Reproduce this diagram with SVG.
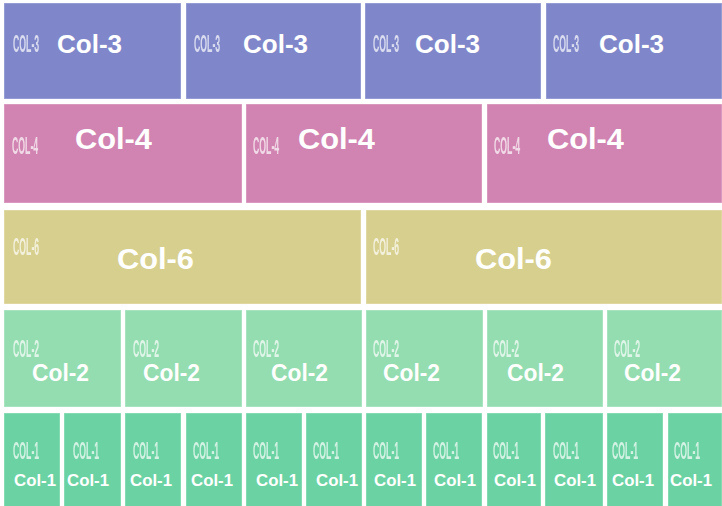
<svg xmlns="http://www.w3.org/2000/svg" width="722" height="506" viewBox="0 0 722 506">
<defs>
<filter id="soft" x="-20%" y="-20%" width="140%" height="140%"><feGaussianBlur stdDeviation="0.6"/></filter>
</defs>
<style>
rect{stroke:#ffffff;stroke-opacity:0.35;stroke-width:1}
.c3{fill:#7f87ca}.c4{fill:#d184b1}.c6{fill:#d7cf8d}.c2{fill:#94ddb1}.c1{fill:#6bd3a3}
.big{font-family:"Liberation Sans",Arial,sans-serif;font-weight:bold;fill:#ffffff}
.sm{font-family:"Liberation Sans",Arial,sans-serif;font-weight:bold;fill:#ffffff;fill-opacity:0.7;font-size:23px;filter:url(#soft)}
.r1{font-size:25px}.r2{font-size:29px}.r4{font-size:24.5px}.r5{font-size:16.5px}
</style>
<rect x="0" y="0" width="722" height="506" fill="#ffffff" style="stroke:none"/>
<g id="row1">
<g id="c3a"><rect class="c3" x="4" y="3" width="177" height="96"/><text class="sm" transform="translate(13,52) scale(0.38,1)">COL-3</text><text class="big r1" x="57" y="53" textLength="65" lengthAdjust="spacingAndGlyphs">Col-3</text></g>
<g id="c3b"><rect class="c3" x="186" y="3" width="175" height="96"/><text class="sm" transform="translate(194,52) scale(0.38,1)">COL-3</text><text class="big r1" x="243" y="53" textLength="65" lengthAdjust="spacingAndGlyphs">Col-3</text></g>
<g id="c3c"><rect class="c3" x="365" y="3" width="176" height="96"/><text class="sm" transform="translate(373,52) scale(0.38,1)">COL-3</text><text class="big r1" x="415" y="53" textLength="65" lengthAdjust="spacingAndGlyphs">Col-3</text></g>
<g id="c3d"><rect class="c3" x="546" y="3" width="176" height="96"/><text class="sm" transform="translate(553,52) scale(0.38,1)">COL-3</text><text class="big r1" x="599" y="53" textLength="65" lengthAdjust="spacingAndGlyphs">Col-3</text></g>
</g>
<g id="row2">
<g id="c4a"><rect class="c4" x="4" y="104" width="238" height="99"/><text class="sm" transform="translate(12,154) scale(0.38,1)">COL-4</text><text class="big r2" x="75" y="149" textLength="77" lengthAdjust="spacingAndGlyphs">Col-4</text></g>
<g id="c4b"><rect class="c4" x="246" y="104" width="236" height="99"/><text class="sm" transform="translate(253,154) scale(0.38,1)">COL-4</text><text class="big r2" x="298" y="149" textLength="77" lengthAdjust="spacingAndGlyphs">Col-4</text></g>
<g id="c4c"><rect class="c4" x="487" y="104" width="235" height="99"/><text class="sm" transform="translate(494,154) scale(0.38,1)">COL-4</text><text class="big r2" x="547" y="149" textLength="77" lengthAdjust="spacingAndGlyphs">Col-4</text></g>
</g>
<g id="row3">
<g id="c6a"><rect class="c6" x="4" y="210" width="357" height="94"/><text class="sm" transform="translate(13,255) scale(0.38,1)">COL-6</text><text class="big r2" x="117" y="269" textLength="77" lengthAdjust="spacingAndGlyphs">Col-6</text></g>
<g id="c6b"><rect class="c6" x="366" y="210" width="356" height="94"/><text class="sm" transform="translate(373,255) scale(0.38,1)">COL-6</text><text class="big r2" x="475" y="269" textLength="77" lengthAdjust="spacingAndGlyphs">Col-6</text></g>
</g>
<g id="row4">
<g id="c2a"><rect class="c2" x="4" y="310" width="117" height="97"/><text class="sm" transform="translate(13,357) scale(0.38,1)">COL-2</text><text class="big r4" x="32" y="381" textLength="57" lengthAdjust="spacingAndGlyphs">Col-2</text></g>
<g id="c2b"><rect class="c2" x="125" y="310" width="117" height="97"/><text class="sm" transform="translate(133,357) scale(0.38,1)">COL-2</text><text class="big r4" x="143" y="381" textLength="57" lengthAdjust="spacingAndGlyphs">Col-2</text></g>
<g id="c2c"><rect class="c2" x="246" y="310" width="116" height="97"/><text class="sm" transform="translate(253,357) scale(0.38,1)">COL-2</text><text class="big r4" x="271" y="381" textLength="57" lengthAdjust="spacingAndGlyphs">Col-2</text></g>
<g id="c2d"><rect class="c2" x="366" y="310" width="117" height="97"/><text class="sm" transform="translate(373,357) scale(0.38,1)">COL-2</text><text class="big r4" x="383" y="381" textLength="57" lengthAdjust="spacingAndGlyphs">Col-2</text></g>
<g id="c2e"><rect class="c2" x="487" y="310" width="116" height="97"/><text class="sm" transform="translate(493,357) scale(0.38,1)">COL-2</text><text class="big r4" x="507" y="381" textLength="57" lengthAdjust="spacingAndGlyphs">Col-2</text></g>
<g id="c2f"><rect class="c2" x="607" y="310" width="115" height="97"/><text class="sm" transform="translate(614,357) scale(0.38,1)">COL-2</text><text class="big r4" x="624" y="381" textLength="57" lengthAdjust="spacingAndGlyphs">Col-2</text></g>
</g>
<g id="row5">
<g id="c1a"><rect class="c1" x="4" y="413" width="56" height="94"/><text class="sm" transform="translate(13,459) scale(0.38,1)">COL-1</text><text class="big r5" x="14" y="486" textLength="42" lengthAdjust="spacingAndGlyphs">Col-1</text></g>
<g id="c1b"><rect class="c1" x="64" y="413" width="57" height="94"/><text class="sm" transform="translate(73,459) scale(0.38,1)">COL-1</text><text class="big r5" x="67" y="486" textLength="42" lengthAdjust="spacingAndGlyphs">Col-1</text></g>
<g id="c1c"><rect class="c1" x="125" y="413" width="56" height="94"/><text class="sm" transform="translate(133,459) scale(0.38,1)">COL-1</text><text class="big r5" x="130" y="486" textLength="42" lengthAdjust="spacingAndGlyphs">Col-1</text></g>
<g id="c1d"><rect class="c1" x="186" y="413" width="56" height="94"/><text class="sm" transform="translate(193,459) scale(0.38,1)">COL-1</text><text class="big r5" x="191" y="486" textLength="42" lengthAdjust="spacingAndGlyphs">Col-1</text></g>
<g id="c1e"><rect class="c1" x="246" y="413" width="56" height="94"/><text class="sm" transform="translate(253,459) scale(0.38,1)">COL-1</text><text class="big r5" x="256" y="486" textLength="42" lengthAdjust="spacingAndGlyphs">Col-1</text></g>
<g id="c1f"><rect class="c1" x="306" y="413" width="56" height="94"/><text class="sm" transform="translate(313,459) scale(0.38,1)">COL-1</text><text class="big r5" x="316" y="486" textLength="42" lengthAdjust="spacingAndGlyphs">Col-1</text></g>
<g id="c1g"><rect class="c1" x="366" y="413" width="56" height="94"/><text class="sm" transform="translate(373,459) scale(0.38,1)">COL-1</text><text class="big r5" x="374" y="486" textLength="42" lengthAdjust="spacingAndGlyphs">Col-1</text></g>
<g id="c1h"><rect class="c1" x="426" y="413" width="56" height="94"/><text class="sm" transform="translate(433,459) scale(0.38,1)">COL-1</text><text class="big r5" x="434" y="486" textLength="42" lengthAdjust="spacingAndGlyphs">Col-1</text></g>
<g id="c1i"><rect class="c1" x="487" y="413" width="54" height="94"/><text class="sm" transform="translate(493,459) scale(0.38,1)">COL-1</text><text class="big r5" x="494" y="486" textLength="42" lengthAdjust="spacingAndGlyphs">Col-1</text></g>
<g id="c1j"><rect class="c1" x="545" y="413" width="58" height="94"/><text class="sm" transform="translate(553,459) scale(0.38,1)">COL-1</text><text class="big r5" x="554" y="486" textLength="42" lengthAdjust="spacingAndGlyphs">Col-1</text></g>
<g id="c1k"><rect class="c1" x="607" y="413" width="56" height="94"/><text class="sm" transform="translate(612,459) scale(0.38,1)">COL-1</text><text class="big r5" x="612" y="486" textLength="42" lengthAdjust="spacingAndGlyphs">Col-1</text></g>
<g id="c1l"><rect class="c1" x="668" y="413" width="54" height="94"/><text class="sm" transform="translate(674,459) scale(0.38,1)">COL-1</text><text class="big r5" x="670" y="486" textLength="42" lengthAdjust="spacingAndGlyphs">Col-1</text></g>
</g>
</svg>
